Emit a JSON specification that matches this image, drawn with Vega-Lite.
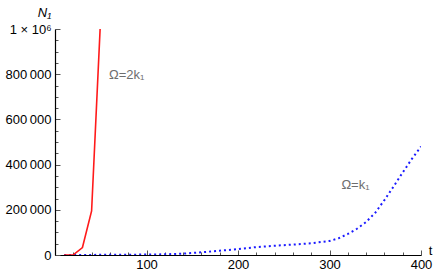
{
  "$schema": "https://vega.github.io/schema/vega-lite/v6.json",
  "width": 366,
  "height": 226,
  "autosize": {"type": "none"},
  "padding": {"left": 55, "top": 29, "right": 15, "bottom": 21},
  "background": "white",
  "config": {"view": {"stroke": null}, "font": "Liberation Sans"},
  "datasets": {
    "red": [
      {"t": 10, "N": 0}, {"t": 20, "N": 1000}, {"t": 30, "N": 33000},
      {"t": 40, "N": 195000}, {"t": 50, "N": 1060000}
    ],
    "blue": [
      {"t": 10, "N": 0}, {"t": 20, "N": 200}, {"t": 40, "N": 500}, {"t": 60, "N": 800},
      {"t": 80, "N": 1200}, {"t": 100, "N": 2000}, {"t": 120, "N": 3000}, {"t": 140, "N": 6000},
      {"t": 160, "N": 12000}, {"t": 180, "N": 19000}, {"t": 200, "N": 26000}, {"t": 220, "N": 35000},
      {"t": 240, "N": 41000}, {"t": 260, "N": 46000}, {"t": 280, "N": 52000}, {"t": 300, "N": 62000},
      {"t": 310, "N": 74000}, {"t": 320, "N": 93000}, {"t": 330, "N": 116000}, {"t": 340, "N": 146000},
      {"t": 350, "N": 187000}, {"t": 360, "N": 243000}, {"t": 370, "N": 303000}, {"t": 380, "N": 365000},
      {"t": 390, "N": 425000}, {"t": 400, "N": 480000}
    ],
    "labels": [
      {"t": 59, "N": 796000, "txt": "Ω=2k₁"},
      {"t": 313, "N": 310000, "txt": "Ω=k₁"}
    ]
  },
  "encoding": {
    "x": {
      "field": "t", "type": "quantitative",
      "scale": {"domain": [0, 400], "nice": false, "zero": false},
      "axis": {
        "values": [0, 20, 40, 60, 80, 100, 120, 140, 160, 180, 200, 220, 240, 260, 280, 300, 320, 340, 360, 380, 400],
        "labelExpr": "datum.value % 100 === 0 && datum.value > 0 ? datum.label : ''",
        "format": "d",
        "grid": false,
        "domainColor": "black", "domainWidth": 1.2,
        "tickColor": "#555",
        "tickSize": {"condition": {"test": "datum.value % 100 === 0", "value": -5}, "value": -3},
        "labelFontSize": 13, "labelColor": "black", "labelPadding": 8,
        "labelFlush": false,
        "title": "t", "titleFontSize": 13, "titleFontWeight": "normal", "titleColor": "black",
        "titleAngle": 0, "titleX": 375, "titleY": -5, "titleAlign": "center", "titleBaseline": "middle"
      }
    },
    "y": {
      "field": "N", "type": "quantitative",
      "scale": {"domain": [0, 1000000], "nice": false},
      "axis": {
        "values": [0, 50000, 100000, 150000, 200000, 250000, 300000, 350000, 400000, 450000, 500000, 550000, 600000, 650000, 700000, 750000, 800000, 850000, 900000, 950000, 1000000],
        "labelExpr": "datum.value === 1000000 ? '1 × 10⁶' : datum.value === 0 ? '0' : datum.value % 200000 === 0 ? format(datum.value / 1000, 'd') + '\u2009000' : ''",
        "grid": false,
        "domainColor": "black", "domainWidth": 1.2,
        "tickColor": "#555",
        "tickSize": {"condition": {"test": "datum.value % 200000 === 0", "value": -5}, "value": -3},
        "labelFontSize": 13, "labelColor": "black", "labelPadding": 9,
        "labelFlush": false,
        "title": "N₁", "titleFontSize": 13, "titleFontWeight": "normal", "titleFontStyle": "italic", "titleColor": "black",
        "titleAngle": 0, "titleX": -11, "titleY": -17, "titleAlign": "center", "titleBaseline": "middle"
      }
    }
  },
  "layer": [
    {
      "data": {"name": "blue"},
      "mark": {"type": "line", "color": "#1a1aff", "strokeWidth": 2, "strokeDash": [2, 3], "clip": true}
    },
    {
      "data": {"name": "red"},
      "mark": {"type": "line", "color": "#ff1a1a", "strokeWidth": 1.6, "clip": true}
    },
    {
      "data": {"name": "labels"},
      "mark": {"type": "text", "align": "left", "baseline": "middle", "fontSize": 13, "color": "#6e6e6e"},
      "encoding": {"text": {"field": "txt"}}
    }
  ]
}
